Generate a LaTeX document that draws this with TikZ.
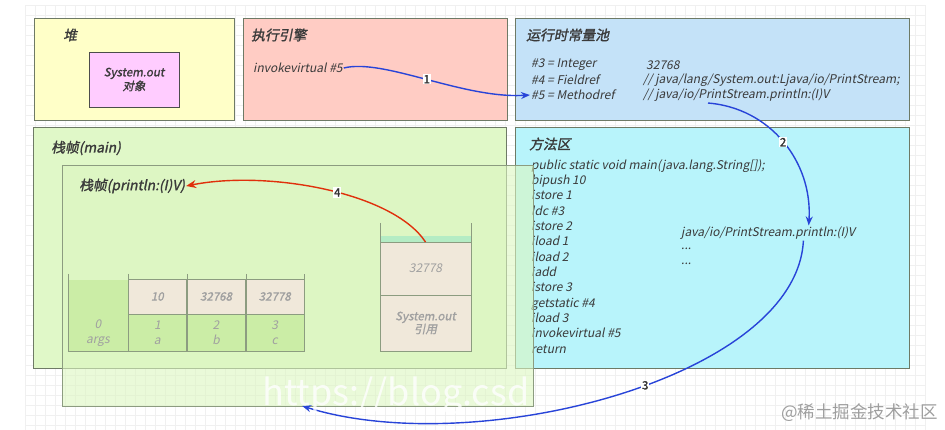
\documentclass[tikz,border=0pt]{standalone}
\usepackage{fontspec}
\setmainfont{Noto Sans CJK SC}[AutoFakeSlant=0.2,AutoFakeBold=1.5]
\usetikzlibrary{positioning,arrows.meta,calc}
\definecolor{heapyellow}{HTML}{FFFFC8}
\definecolor{objpink}{HTML}{FFCCFF}
\definecolor{enginered}{HTML}{FFCCC4}
\definecolor{poolblue}{HTML}{C4E2F8}
\definecolor{framegreen}{HTML}{E0F8C8}
\definecolor{printgreen}{HTML}{DCF6C0}
\definecolor{methodcyan}{HTML}{B8F4FB}
\definecolor{slotgreen}{HTML}{CBEDA6}
\definecolor{cellbeige}{HTML}{F0E8DA}
\definecolor{stacktop}{HTML}{B4ECC4}
\definecolor{edgegray}{HTML}{6E7A66}
\definecolor{tablegray}{HTML}{8C9C80}
\definecolor{textdark}{HTML}{3A3A3A}
\definecolor{textlight}{HTML}{A0A0A0}
\definecolor{arrowblue}{HTML}{2844D8}
\definecolor{arrowred}{HTML}{E0300C}
\definecolor{gridline}{HTML}{F0F0F0}

\begin{document}
\begin{tikzpicture}[x=1pt,y=-1pt,
    every node/.style={font=\itshape\fontsize{12}{15}\selectfont, text=textdark},
    area/.style={draw=edgegray, line width=0.8pt, inner sep=0pt, outer sep=0pt, anchor=north west},
    title/.style={anchor=west, inner sep=1pt, font=\bfseries\itshape\fontsize{13.8}{15}\selectfont},
    code/.style={anchor=west, inner sep=1pt},
    cell/.style={draw=tablegray, line width=0.7pt, inner sep=0pt, outer sep=0pt, anchor=north west,
        text=textlight, align=center},
    wall/.style={draw=tablegray, line width=1pt},
    bluearrow/.style={draw=arrowblue, line width=1.4pt, -{Stealth[length=9pt,width=7pt]}},
    redarrow/.style={draw=arrowred, line width=1.4pt, -{Stealth[length=10pt,width=8pt]}},
    numlabel/.style={fill=white, inner sep=1pt, font=\bfseries\fontsize{11.5}{11.5}\selectfont, text=black!80}]

    \useasboundingbox (0,0) rectangle (945,430);

    % faint grid behind everything
    \foreach \gx in {25,35,...,925} \draw[gridline, line width=0.4pt] (\gx,5) -- (\gx,430);
    \foreach \gy in {5,15,...,425} \draw[gridline, line width=0.4pt] (25,\gy) -- (925,\gy);

    % the five regions
    \node[area, fill=heapyellow, minimum width=200pt, minimum height=102pt] (heap) at (34,18) {};
    \node[area, fill=enginered, minimum width=264pt, minimum height=102pt] (engine) at (243,18) {};
    \node[area, fill=poolblue, minimum width=394pt, minimum height=102pt] (pool) at (515,18) {};
    \node[area, fill=framegreen, minimum width=473pt, minimum height=241pt] (mainframe) at (33,127) {};
    \node[area, fill=methodcyan, minimum width=394pt, minimum height=241pt] (method) at (515,127) {};

    % heap
    \node[title] (heaptitle) at (62,35) {堆};
    \node[area, fill=objpink, draw=black!70, minimum width=90pt, minimum height=55pt, align=center,
        font=\bfseries\itshape\fontsize{11.5}{14}\selectfont] (heapobj) at (89,52) {System.out\\对象};

    % execution engine
    \node[title] (enginetitle) at (250,35) {执行引擎};
    \node[code] (invk) at (252,68) {invokevirtual \#5};

    % runtime constant pool
    \node[title] (pooltitle) at (525,35) {运行时常量池};
    \node[code] (c3) at (530,65) {\#3 = Integer};
    \node[code] (c4) at (530,80) {\#4 = Fieldref};
    \node[code] (c5) at (530,95) {\#5 = Methodref};
    \node[code] (r3) at (645,65) {32768};
    \node[code] (r4) at (642,80) {// java/lang/System.out:Ljava/io/PrintStream;};
    \node[code] (r5) at (642,95) {// java/io/PrintStream.println:(I)V};
    \coordinate (refmid) at (708,103);

    % stack frame of main
    \node[title] (maintitle) at (50,148) {栈帧(main)};

    % method area
    \node[title] (methodtitle) at (528,144) {方法区};
    \node[code, anchor=north west, align=left, font=\itshape\fontsize{12}{15.35}\selectfont] (bytecode) at (530,158)
        {public static void main(java.lang.String[]);\\bipush 10\\istore 1\\ldc \#3\\istore 2\\iload 1\\iload 2\\iadd\\
         istore 3\\getstatic \#4\\iload 3\\invokevirtual \#5\\return};
    \node[code] (tgt) at (680,233) {java/io/PrintStream.println:(I)V};
    \node[code] (dots1) at (680,249) {...};
    \node[code] (dots2) at (680,264) {...};

    % stack frame of println, laid over the others
    \node[area, draw=tablegray, fill=printgreen, fill opacity=0.6, minimum width=471pt, minimum height=241pt] (printframe) at (62,165) {};
    \node[title] (printtitle) at (78,186) {栈帧(println:(I)V)};

    % local variable table
    \node[cell, draw=none, fill=slotgreen, minimum width=60pt, minimum height=71pt] (slot0) at (68,280) {};
    \node[text=textlight] (arg0) at (98,333) [align=center] {0\\args};
    \foreach \val/\idx/\nm [count=\k] in {10/1/a,32768/2/b,32778/3/c} {
        \node[cell, fill=cellbeige, minimum width=58.7pt, minimum height=35pt,
            font=\bfseries\itshape\fontsize{11.5}{15}\selectfont] (val\k) at ({128+(\k-1)*58.7},279) {\val};
        \node[cell, fill=slotgreen, minimum width=58.7pt, minimum height=37pt] (idx\k) at ({128+(\k-1)*58.7},314) {\idx\\\nm};
    }
    \draw[wall] (68,274) -- (68,351) -- (304,351) -- (304,274);
    \foreach \wx in {128,187,246} \draw[wall] (\wx,274) -- (\wx,351);

    % operand stack
    \fill[stacktop] (380,236) rectangle (471,242);
    \node[cell, fill=cellbeige, minimum width=91pt, minimum height=53pt] (stk0) at (380,242) {32778};
    \node[cell, fill=cellbeige, minimum width=91pt, minimum height=56pt,
        font=\bfseries\itshape\fontsize{11.5}{13}\selectfont] (stk1) at (380,295) {System.out\\引用};
    \draw[wall] (380,223) -- (380,351) -- (471,351) -- (471,223);

    % steps
    \draw[bluearrow] (invk.east) .. controls +(40,-10) and +(-67,4) .. (c5.west) node[numlabel, pos=0.5] {1};
    \draw[bluearrow] (refmid) .. controls +(62,5) and +(4,-64) .. ($(tgt.north west)!0.73!(tgt.north east)$)
        node[numlabel, pos=0.5] {2};
    \draw[bluearrow] ($(tgt.south west)!0.7!(tgt.south east)$) .. controls +(-7,138) and +(173,54) ..
        ($(printframe.south west)!0.51!(printframe.south east)$) node[numlabel, pos=0.45] {3};
    \draw[redarrow] (stk0.north) .. controls +(-33,-50) and +(81,-16) .. (printtitle.east) node[numlabel, pos=0.45] {4};

    % watermarks
    \node[anchor=west, inner sep=0pt, font=\fontsize{36}{36}\selectfont, text=white, text opacity=0.8] (wmurl) at (262,396) {https://blog.csd};
    \node[anchor=east, inner sep=0pt, font=\fontsize{17.5}{17.5}\selectfont, text=black!38] (wmsite) at (938,413) {@稀土掘金技术社区};
\end{tikzpicture}
\end{document}
